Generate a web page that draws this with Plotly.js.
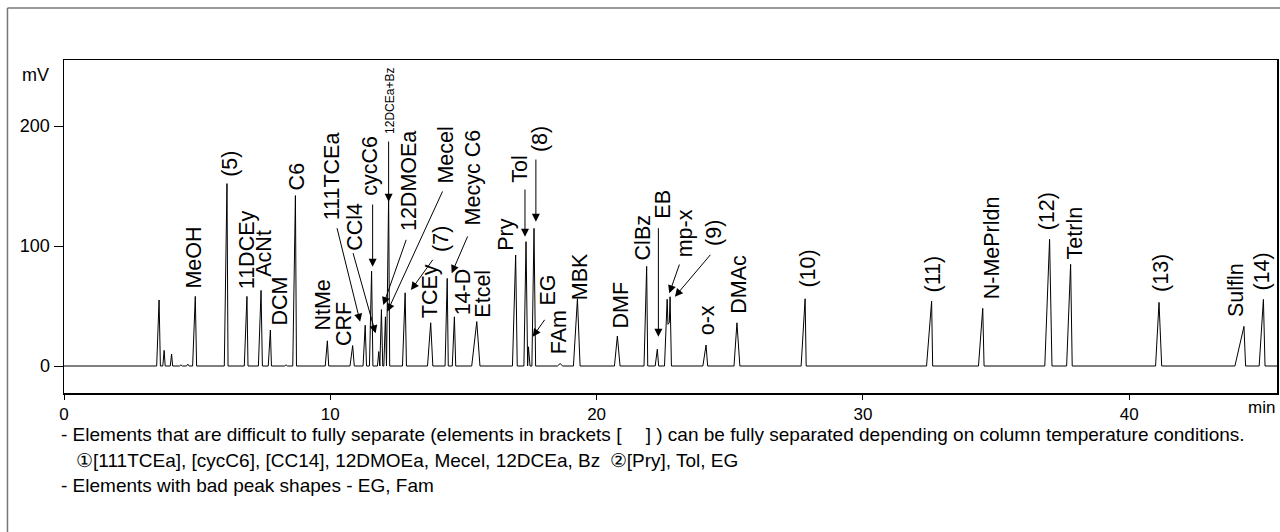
<!DOCTYPE html>
<html>
<head>
<meta charset="utf-8">
<script src="https://cdn.plot.ly/plotly-3.0.1.min.js"></script>
<style>
  html, body { margin: 0; padding: 0; background: #fff; }
  #chart { width: 1280px; height: 532px; }
</style>
</head>
<body>
<div id="chart"></div>
<script>
// ---- Data ----
// retention time (min) of each peak apex
const peakTimes = [3.57, 3.76, 4.04, 4.39, 4.65, 4.93, 5.78, 6.12, 6.87, 7.40, 7.75, 8.34, 8.69,
  9.89, 10.84, 11.31, 11.55, 11.82, 11.92, 12.07, 12.19, 12.81, 13.77, 14.39, 14.66, 15.50,
  16.96, 17.35, 17.44, 17.65, 18.63, 19.28, 20.78, 21.88, 22.28, 22.65, 22.76, 24.11, 25.27,
  27.83, 32.58, 34.50, 37.01, 37.80, 41.12, 44.31, 45.04];
// apex height (mV)
const peakHeights = [55, 13, 10, 1, 1.5, 58, 0.5, 152, 58, 63, 30, 1, 142,
  21, 17, 34, 79, 12, 47, 41, 141, 61, 36, 73, 41, 37,
  92.5, 103.6, 16, 114.7, 2, 56, 25, 83, 14, 55.6, 57.7, 17.5, 36,
  56, 54, 48, 105.6, 84.7, 53, 33, 55.5];
// rise time before apex and fall time after apex (min)
const peakRise = [0.09, 0.05, 0.05, 0.05, 0.05, 0.10, 0.05, 0.10, 0.10, 0.10, 0.08, 0.05, 0.10,
  0.08, 0.10, 0.08, 0.08, 0.05, 0.06, 0.06, 0.08, 0.10, 0.12, 0.08, 0.08, 0.19,
  0.12, 0.08, 0.03, 0.08, 0.10, 0.15, 0.11, 0.10, 0.08, 0.10, 0.08, 0.12, 0.11,
  0.15, 0.19, 0.16, 0.18, 0.15, 0.13, 0.34, 0.16];
const peakFall = [0.05, 0.04, 0.04, 0.05, 0.05, 0.05, 0.05, 0.04, 0.04, 0.05, 0.04, 0.05, 0.04,
  0.05, 0.06, 0.05, 0.05, 0.04, 0.05, 0.04, 0.04, 0.05, 0.08, 0.04, 0.05, 0.12,
  0.06, 0.05, 0.06, 0.06, 0.10, 0.10, 0.10, 0.04, 0.05, 0.08, 0.05, 0.06, 0.11,
  0.04, 0.04, 0.05, 0.09, 0.06, 0.10, 0.06, 0.06];

const xTickVals = [0, 10, 20, 30, 40];
const xTickText = ['0', '10', '20', '30', '40'];
const yTickVals = [0, 100, 200];
const yTickText = ['0', '100', '200'];

// peak labels: name, retention time of label centre, level (mV) of label foot
const labelNames = ['MeOH', '(5)', '11DCEy', 'AcNt', 'DCM', 'C6', 'NtMe', 'CRF', '111TCEa', 'CCl4',
  'cycC6', '12DMOEa', 'Mecel', '(7)', 'TCEy', 'Mecyc C6', '14-D', 'Etcel', 'Pry', 'Tol', '(8)',
  'EG', 'FAm', 'MBK', 'DMF', 'ClBz', 'EB', 'mp-x', '(9)', 'o-x', 'DMAc', '(10)', '(11)',
  'N-MePrldn', '(12)', 'Tetrln', '(13)', 'Sulfln', '(14)'];
const labelTimes = [4.89, 6.23, 6.86, 7.48, 8.11, 8.74, 9.74, 10.49, 10.05, 10.93,
  11.49, 12.93, 14.31, 14.18, 13.74, 15.35, 14.99, 15.75, 16.62, 17.12, 17.87,
  18.19, 18.60, 19.38, 20.88, 21.75, 22.50, 23.32, 24.38, 24.13, 25.32, 27.95, 32.62,
  34.84, 36.90, 37.96, 41.22, 44.04, 44.98];
const labelLevels = [63.9, 156.7, 63.3, 73.3, 33.3, 145.3, 28.6, 16.1, 120.3, 95.3,
  141.1, 111.9, 150.8, 93.9, 38.9, 116.1, 41.1, 39.8, 95.3, 152.3, 177.3,
  49.4, 9.2, 53.6, 30, 86.9, 121.7, 89.75, 99.4, 24.4, 42.5, 64.75, 60.6,
  55, 111.9, 88.3, 60.6, 39.75, 61.9];

// arrows: from label (tail) to peak (head)
const arrowTailT = [10.24, 10.84, 11.59, 12.19, 12.87, 14.24, 13.89, 15.18, 17.31, 17.72, 18.09, 22.32, 23.13, 24.32];
const arrowTailV = [116.1, 95.25, 135.8, 188.3, 106.4, 146.7, 89.75, 109.2, 148.3, 173.3, 39.75, 116.1, 85.8, 93.9];
const arrowHeadT = [11.12, 11.70, 11.59, 12.19, 11.99, 12.14, 13.03, 14.56, 17.31, 17.72, 17.60, 22.32, 22.73, 22.94];
const arrowHeadV = [36.9, 27.25, 82.75, 136.9, 50.8, 45.25, 63.3, 77.25, 107.75, 120.25, 24.4, 24.4, 60.6, 57.75];

const noteLines = [
  '- Elements that are difficult to fully separate (elements in brackets [\u2003 ] ) can be fully separated depending on column temperature conditions.',
  '\u2460[111TCEa], [cycC6], [CC14], 12DMOEa, Mecel, 12DCEa, Bz\u2002\u2461[Pry], Tol, EG',
  '- Elements with bad peak shapes - EG, Fam'
];

// ---- build the chromatogram line from the peak table ----
const X_MAX = 45.55;
function signalAt(t) {
  let s = 0;
  for (let i = 0; i < peakTimes.length; i++) {
    const p = peakTimes[i], a = p - peakRise[i], b = p + peakFall[i];
    if (t > a && t <= p) s += peakHeights[i] * (t - a) / (p - a);
    else if (t > p && t < b) s += peakHeights[i] * (b - t) / (b - p);
  }
  return s;
}
let bp = [0, X_MAX];
peakTimes.forEach((p, i) => { bp.push(p - peakRise[i], p, p + peakFall[i]); });
bp = Array.from(new Set(bp.map(v => Math.round(v * 10000) / 10000))).sort((a, b) => a - b);
const lineX = bp;
const lineY = bp.map(signalAt);

const FONT = 'Arial, "Liberation Sans", sans-serif';

const annotations = [];
labelNames.forEach((n, i) => {
  annotations.push({
    x: labelTimes[i], y: labelLevels[i], xref: 'x', yref: 'y',
    text: n, showarrow: false, textangle: -90,
    xanchor: 'center', yanchor: 'bottom', borderpad: 0,
    font: { family: FONT, size: 21.5, color: '#000' }
  });
});
// small label for the 12DCEa+Bz peak
annotations.push({
  x: 12.24, y: 192.5, xref: 'x', yref: 'y', text: '12DCEa+Bz', showarrow: false,
  textangle: -90, xanchor: 'center', yanchor: 'bottom', borderpad: 0,
  font: { family: FONT, size: 12, color: '#000' }
});
arrowTailT.forEach((t, i) => {
  annotations.push({
    x: arrowHeadT[i], y: arrowHeadV[i], xref: 'x', yref: 'y',
    ax: t, ay: arrowTailV[i], axref: 'x', ayref: 'y',
    text: '', showarrow: true, arrowhead: 2, arrowsize: 1.6, arrowwidth: 1,
    arrowcolor: '#000', standoff: 0, startstandoff: 0
  });
});
annotations.push({ x: -0.011, y: 0.955, xref: 'paper', yref: 'paper', text: 'mV', showarrow: false,
  xanchor: 'right', yanchor: 'middle', font: { family: FONT, size: 18, color: '#000' } });
annotations.push({ x: 1.0, y: -0.045, xref: 'paper', yref: 'paper', text: 'min', showarrow: false,
  xanchor: 'right', yanchor: 'middle', font: { family: FONT, size: 17, color: '#000' } });
const noteY = [-0.126, -0.204, -0.279];
const noteX = [-0.004, 0.008, -0.004];
noteLines.forEach((s, i) => {
  annotations.push({ x: noteX[i], y: noteY[i], xref: 'paper', yref: 'paper', text: s, showarrow: false,
    xanchor: 'left', yanchor: 'middle', font: { family: FONT, size: 19, color: '#000' } });
});

const trace = {
  x: lineX, y: lineY, type: 'scatter', mode: 'lines',
  line: { color: '#000', width: 1 }, hoverinfo: 'skip', showlegend: false
};

const layout = {
  width: 1280, height: 532,
  margin: { l: 64, r: 3, t: 60, b: 139, pad: 0 },
  paper_bgcolor: '#fff', plot_bgcolor: '#fff',
  showlegend: false,
  font: { family: FONT, color: '#000' },
  xaxis: {
    range: [0, X_MAX], tickvals: xTickVals, ticktext: xTickText,
    ticks: 'outside', ticklen: 5, tickwidth: 1, tickcolor: '#000',
    showline: true, mirror: true, linecolor: '#000', linewidth: 1.5,
    showgrid: false, zeroline: false, tickfont: { family: FONT, size: 17, color: '#000' }
  },
  yaxis: {
    range: [-22.5, 255], tickvals: yTickVals, ticktext: yTickText,
    ticks: 'outside', ticklen: 9, tickwidth: 1, tickcolor: '#000',
    showline: true, mirror: true, linecolor: '#000', linewidth: 1.5,
    showgrid: false, zeroline: false, tickfont: { family: FONT, size: 18, color: '#000' }
  },
  shapes: [
    { type: 'line', xref: 'paper', yref: 'paper', x0: -0.0466, x1: -0.0466, y0: 1.156, y1: -0.45,
      line: { color: '#777', width: 1.5 } },
    { type: 'line', xref: 'paper', yref: 'paper', x0: -0.0466, x1: 1.01, y0: 1.156, y1: 1.156,
      line: { color: '#777', width: 1.5 } }
  ],
  annotations: annotations
};

Plotly.newPlot('chart', [trace], layout, { staticPlot: true, displayModeBar: false });
</script>
</body>
</html>
